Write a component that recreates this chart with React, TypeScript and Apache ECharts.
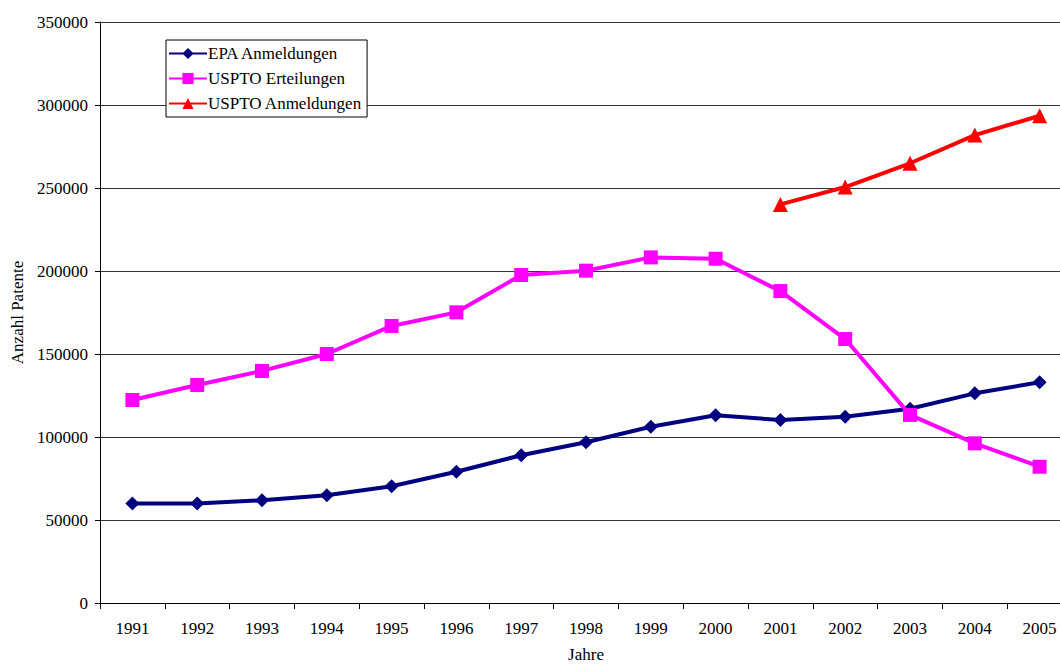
import React, { useEffect, useRef } from "react";
import * as echarts from "echarts";

const years = ["1991","1992","1993","1994","1995","1996","1997","1998","1999","2000","2001","2002","2003","2004","2005"];
const epaAnmeldungen = [60000, 60000, 61900, 64900, 70300, 79100, 89000, 96800, 106200, 113100, 110200, 112200, 117000, 126300, 133000];
const usptoErteilungen = [122300, 131300, 139800, 150000, 166900, 175100, 197600, 200200, 208200, 207400, 187900, 159000, 113300, 96200, 82100];
const usptoAnmeldungen = [null, null, null, null, null, null, null, null, null, null, 240100, 250600, 264900, 281900, 293500];

const FONT = "Liberation Serif";
const FS = 17;

export default function App() {
  const ref = useRef<HTMLDivElement>(null);
  useEffect(() => {
    if (!ref.current) return;
    const chart = echarts.init(ref.current, undefined, { renderer: "svg" });
    chart.setOption({
      animation: false,
      backgroundColor: "#ffffff",
      textStyle: { fontFamily: FONT, color: "#000" },
      grid: { left: 100, top: 22, right: -12, bottom: 61, containLabel: false, outerBoundsMode: "none" },
      legend: {
        orient: "vertical",
        left: 166,
        top: 40,
        padding: [5, 5, 5, 2],
        itemGap: 8,
        itemWidth: 38,
        itemHeight: 14,
        borderColor: "#000",
        borderWidth: 1,
        backgroundColor: "#fff",
        textStyle: { fontFamily: FONT, fontSize: FS, color: "#000", padding: [0, 0, 0, -4] },
        data: ["EPA Anmeldungen", "USPTO Erteilungen", "USPTO Anmeldungen"],
      },
      xAxis: {
        type: "category",
        data: years,
        boundaryGap: true,
        name: "Jahre",
        nameLocation: "middle",
        nameGap: 43,
        nameTextStyle: { fontFamily: FONT, fontSize: FS, color: "#000" },
        axisLine: { lineStyle: { color: "#000", width: 1 } },
        axisTick: { show: true, length: 6, lineStyle: { color: "#000" } },
        axisLabel: { fontFamily: FONT, fontSize: FS, color: "#000", margin: 17 },
        splitLine: { show: false },
      },
      yAxis: {
        type: "value",
        min: 0,
        max: 350000,
        interval: 50000,
        name: "Anzahl Patente",
        nameLocation: "middle",
        nameGap: 74,
        nameTextStyle: { fontFamily: FONT, fontSize: FS, color: "#000" },
        axisLine: { show: true, lineStyle: { color: "#000", width: 1 } },
        axisTick: { show: true, length: 5, lineStyle: { color: "#000" } },
        axisLabel: {
          fontFamily: FONT,
          fontSize: FS,
          color: "#000",
          margin: 12,
          formatter: (v: number) => String(v),
        },
        splitLine: { show: true, lineStyle: { color: "#333", width: 1 } },
      },
      series: [
        {
          name: "EPA Anmeldungen",
          type: "line",
          data: epaAnmeldungen,
          symbol: "diamond",
          symbolSize: 14,
          lineStyle: { color: "#000080", width: 4 },
          itemStyle: { color: "#000080" },
          z: 3,
        },
        {
          name: "USPTO Erteilungen",
          type: "line",
          data: usptoErteilungen,
          symbol: "rect",
          symbolSize: 14,
          lineStyle: { color: "#ff00ff", width: 4 },
          itemStyle: { color: "#ff00ff" },
          z: 4,
        },
        {
          name: "USPTO Anmeldungen",
          type: "line",
          data: usptoAnmeldungen,
          symbol: "triangle",
          symbolSize: 15,
          lineStyle: { color: "#ff0000", width: 4 },
          itemStyle: { color: "#ff0000" },
          z: 5,
        },
      ],
    });
    return () => chart.dispose();
  }, []);
  return (
    <div
      ref={ref}
      style={{ position: "absolute", left: 0, top: 0, width: 1060, height: 664, background: "#fff" }}
    />
  );
}
